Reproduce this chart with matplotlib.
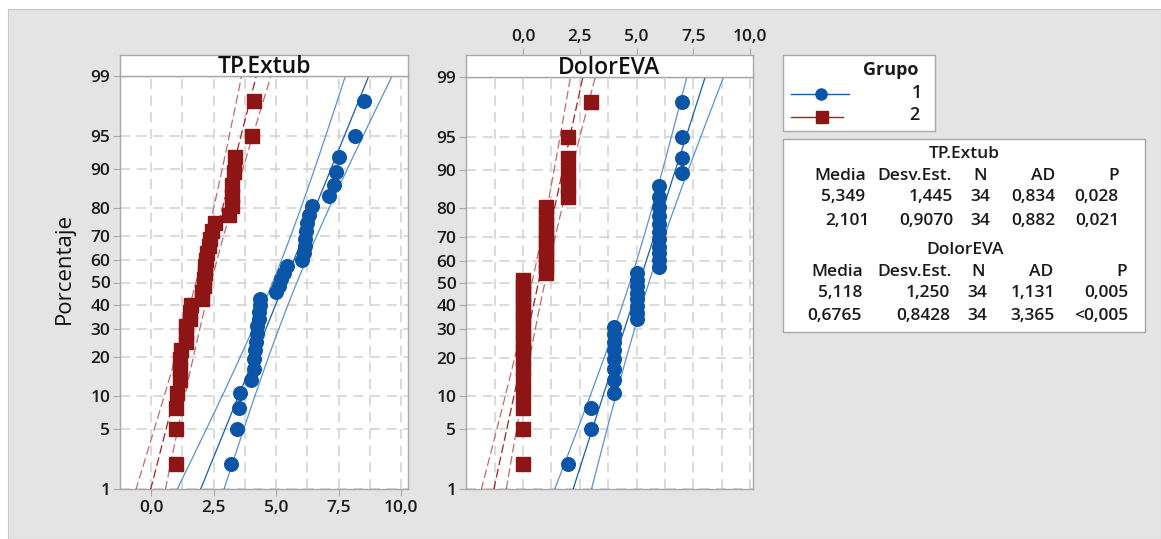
import matplotlib
matplotlib.use('Agg')
import matplotlib.pyplot as plt
import numpy as np
from statistics import NormalDist
from matplotlib.patches import Rectangle
from matplotlib.lines import Line2D

ND = NormalDist()

# ---------------- data ----------------
tp_g1 = [3.2, 3.45, 3.5, 3.55, 4.0, 4.1, 4.1, 4.15, 4.2, 4.25, 4.25, 4.3, 4.3, 4.35, 4.35,
         5.0, 5.1, 5.2, 5.3, 5.45, 6.05, 6.1, 6.15, 6.15, 6.2, 6.25, 6.3, 6.45,
         7.1, 7.3, 7.4, 7.5, 8.15, 8.5]
tp_g2 = [1.0, 1.0, 1.0, 1.05, 1.15, 1.15, 1.15, 1.2, 1.4, 1.4, 1.4, 1.55, 1.55, 1.6,
         2.05, 2.05, 2.1, 2.1, 2.15, 2.15, 2.2, 2.25, 2.3, 2.35, 2.45, 2.55,
         3.1, 3.25, 3.25, 3.25, 3.3, 3.35, 4.05, 4.1]
eva_g1 = [2, 3, 3, 4, 4, 4, 4, 4, 4, 4, 4, 5, 5, 5, 5, 5, 5, 5, 5,
          6, 6, 6, 6, 6, 6, 6, 6, 6, 6, 6, 7, 7, 7, 7]
eva_g2 = [0, 0, 0, 0, 0, 0, 0, 0, 0, 0, 0, 0, 0, 0, 0, 0, 0, 0,
          1, 1, 1, 1, 1, 1, 1, 1, 1, 1, 2, 2, 2, 2, 2, 3]

tp_mean = [5.349, 2.101]
tp_sd = [1.445, 0.9070]
eva_mean = [5.118, 0.6765]
eva_sd = [1.250, 0.8428]

y_ticks = [1, 5, 10, 20, 30, 40, 50, 60, 70, 80, 90, 95, 99]
x_ticks = [0, 2.5, 5, 7.5, 10]
x_tick_labels = ["0,0", "2,5", "5,0", "7,5", "10,0"]

tp_header = ["Media", "Desv.Est.", "N", "AD", "P"]
tp_row1 = ["5,349", "1,445", "34", "0,834", "0,028"]
tp_row2 = ["2,101", "0,9070", "34", "0,882", "0,021"]
eva_row1 = ["5,118", "1,250", "34", "1,131", "0,005"]
eva_row2 = ["0,6765", "0,8428", "34", "3,365", "<0,005"]

# ---------------- style ----------------
W, H = 1161, 539
BLUE = '#0a55a8'
BLUE_FIT = '#1a5cb0'
BLUE_CI = '#5a92d2'
RED = '#8e1515'
RED_FIT = '#a52020'
RED_CI = '#c46a6a'
GRID = '#d4d4d4'
SPINE = '#a8a8a8'
BG = '#e4e4e4'
TXT = '#1a1a1a'
FONT = 'Open Sans'
WT = 'semibold'
plt.rcParams['font.family'] = [FONT, 'DejaVu Sans']
plt.rcParams['font.weight'] = WT


def fx(x):
    return x / W


def fy(y):
    return 1 - y / H


def _fwd(p):
    p = np.asarray(p, dtype=float)
    p = np.clip(p, 1e-4, 100 - 1e-4)
    return np.vectorize(lambda v: ND.inv_cdf(v / 100.0) if np.isfinite(v) else np.nan,
                        otypes=[float])(p)


def _inv(z):
    z = np.asarray(z, dtype=float)
    return np.vectorize(lambda v: 100.0 * ND.cdf(v) if np.isfinite(v) else np.nan,
                        otypes=[float])(z)


fig = plt.figure(figsize=(W / 100, H / 100), dpi=100)
fig.patch.set_facecolor('white')
fig.patches.append(Rectangle((fx(8), 0), 1 - fx(8), fy(9), transform=fig.transFigure,
                             facecolor=BG, edgecolor='#c8c8c8', lw=0.8, zorder=-10))

TICK_FS = 12.5


def panel(left, right, top, xlim, title, g1, g2, means, sds, top_ticks):
    ax = fig.add_axes([fx(left), fy(489), fx(right - left), (489 - top) / H])
    ax.set_facecolor('white')
    ax.set_yscale('function', functions=(_fwd, _inv))
    ax.set_ylim(1, 99)
    ax.set_xlim(*xlim)
    ax.set_yticks(y_ticks)
    ax.set_yticklabels([str(t) for t in y_ticks])
    ax.set_xticks(x_ticks)
    minor = [m for m in np.arange(-2.5, 10.01, 1.25) if m not in x_ticks and xlim[0] < m < xlim[1]]
    ax.set_xticks(minor, minor=True)
    ax.yaxis.set_minor_locator(matplotlib.ticker.NullLocator())
    ax.grid(True, which='both', axis='x', color=GRID, ls=(0, (6, 4)), lw=1.2)
    ax.grid(True, which='major', axis='y', color=GRID, ls=(0, (6, 4)), lw=1.2)
    ax.set_axisbelow(True)
    for s in ax.spines.values():
        s.set_color(SPINE)
        s.set_linewidth(1.0)
    ax.tick_params(axis='y', which='major', length=5, color=SPINE, labelsize=TICK_FS, pad=2,
                   labelcolor=TXT)
    ax.tick_params(axis='x', which='minor', length=0)
    if top_ticks:
        ax.tick_params(axis='x', which='major', length=0, labelbottom=False)
    else:
        ax.set_xticklabels(x_tick_labels)
        ax.tick_params(axis='x', which='major', length=5, color=SPINE, labelsize=TICK_FS,
                       pad=3, labelcolor=TXT)

    n = len(g1)
    pp = [(i - 0.3) / (n + 0.4) * 100 for i in range(1, n + 1)]
    pgrid = np.linspace(0.3, 99.7, 400)
    zg = _fwd(pgrid)
    for k, (data, col_fit, col_ci, col_pt, mk, ms, ls) in enumerate([
            (g2, RED_FIT, RED_CI, RED, 's', 9.5, (0, (7, 3))),
            (g1, BLUE_FIT, BLUE_CI, BLUE, 'o', 9.8, '-')]):
        gi = 1 - k
        mu, sd = means[gi], sds[gi]
        fit = mu + sd * zg
        half = 1.96 * sd * np.sqrt(1.0 / n + zg ** 2 / (2.0 * n))
        ax.plot(fit, pgrid, color=col_fit, lw=0.9, ls=ls, zorder=3)
        ax.plot(fit - half, pgrid, color=col_ci, lw=0.9, ls=ls, zorder=3)
        ax.plot(fit + half, pgrid, color=col_ci, lw=0.9, ls=ls, zorder=3)
        ax.plot(sorted(data), pp, ls='none', marker=mk, ms=ms, color=col_pt,
                mec=col_pt, zorder=4, clip_on=True)

    # strip header
    sax = fig.add_axes([fx(left), fy(top), fx(right - left), (top - 55) / H])
    sax.set_facecolor('white')
    sax.set_xlim(*xlim)
    sax.set_yticks([])
    for s in sax.spines.values():
        s.set_color(SPINE)
        s.set_linewidth(1.0)
    sax.text(0.5, 0.42, title, transform=sax.transAxes, ha='center', va='center',
             fontsize=16.5, color='#111111')
    if top_ticks:
        sax.set_xticks(x_ticks)
        sax.set_xticklabels(x_tick_labels)
        sax.xaxis.tick_top()
        sax.tick_params(axis='x', length=5, color=SPINE, labelsize=TICK_FS, pad=2,
                        labelcolor=TXT)
    else:
        sax.set_xticks([])
    return ax


ax1 = panel(120, 408, 76, (-1.24, 10.28), 'TP.Extub', tp_g1, tp_g2, tp_mean, tp_sd, False)
ax2 = panel(466, 753, 77, (-2.51, 10.13), 'DolorEVA', eva_g1, eva_g2, eva_mean, eva_sd, True)

fig.text(fx(64), fy(268), 'Porcentaje', rotation=90, ha='center', va='center',
         fontsize=16, color='#111111', fontweight='normal')

# legend box
fig.patches.append(Rectangle((fx(783), fy(131)), fx(935 - 783), (131 - 55) / H,
                             transform=fig.transFigure, facecolor='white',
                             edgecolor=SPINE, lw=1.0))
fig.text(fx(891), fy(70), 'Grupo', ha='center', va='center', fontsize=13,
         fontweight='bold', color=TXT)
fig.lines.append(Line2D([fx(791), fx(849)], [fy(94), fy(94)], transform=fig.transFigure,
                        color=BLUE_FIT, lw=1.0))
fig.lines.append(Line2D([fx(821)], [fy(94)], transform=fig.transFigure, marker='o',
                        ms=8, color=BLUE, ls='none'))
fig.lines.append(Line2D([fx(791), fx(843)], [fy(117), fy(117)], transform=fig.transFigure,
                        color=RED_FIT, lw=1.0))
fig.lines.append(Line2D([fx(822)], [fy(117)], transform=fig.transFigure, marker='s',
                        ms=8, color=RED, ls='none'))
fig.text(fx(922), fy(93), '1', ha='right', va='center', fontsize=13, color=TXT)
fig.text(fx(920), fy(115), '2', ha='right', va='center', fontsize=13, color=TXT)

# stats table box
fig.patches.append(Rectangle((fx(783), fy(332)), fx(1145 - 783), (332 - 139) / H,
                             transform=fig.transFigure, facecolor='white',
                             edgecolor=SPINE, lw=1.0))
TS = 12.5
fig.text(fx(964), fy(154), 'TP.Extub', ha='center', va='center', fontsize=TS, color=TXT)
fig.text(fx(965), fy(250), 'DolorEVA', ha='center', va='center', fontsize=TS, color=TXT)

rows = [
    (tp_header, 176.5, [866, 952, 987, 1055, 1119]),
    (tp_row1, 197, [865, 953, 990, 1055, 1118]),
    (tp_row2, 220.5, [870, 953, 990, 1055, 1120]),
    (tp_header, 271.5, [863, 952, 985, 1053, 1127]),
    (eva_row1, 293, [862, 950, 987, 1055, 1128]),
    (eva_row2, 316.5, [862, 950, 987, 1055, 1128]),
]
for labels, y, xs in rows:
    for lab, xr in zip(labels, xs):
        fig.text(fx(xr), fy(y), lab, ha='right', va='center', fontsize=TS, color=TXT)

fig.savefig('out.png', dpi=100, facecolor=fig.get_facecolor())
